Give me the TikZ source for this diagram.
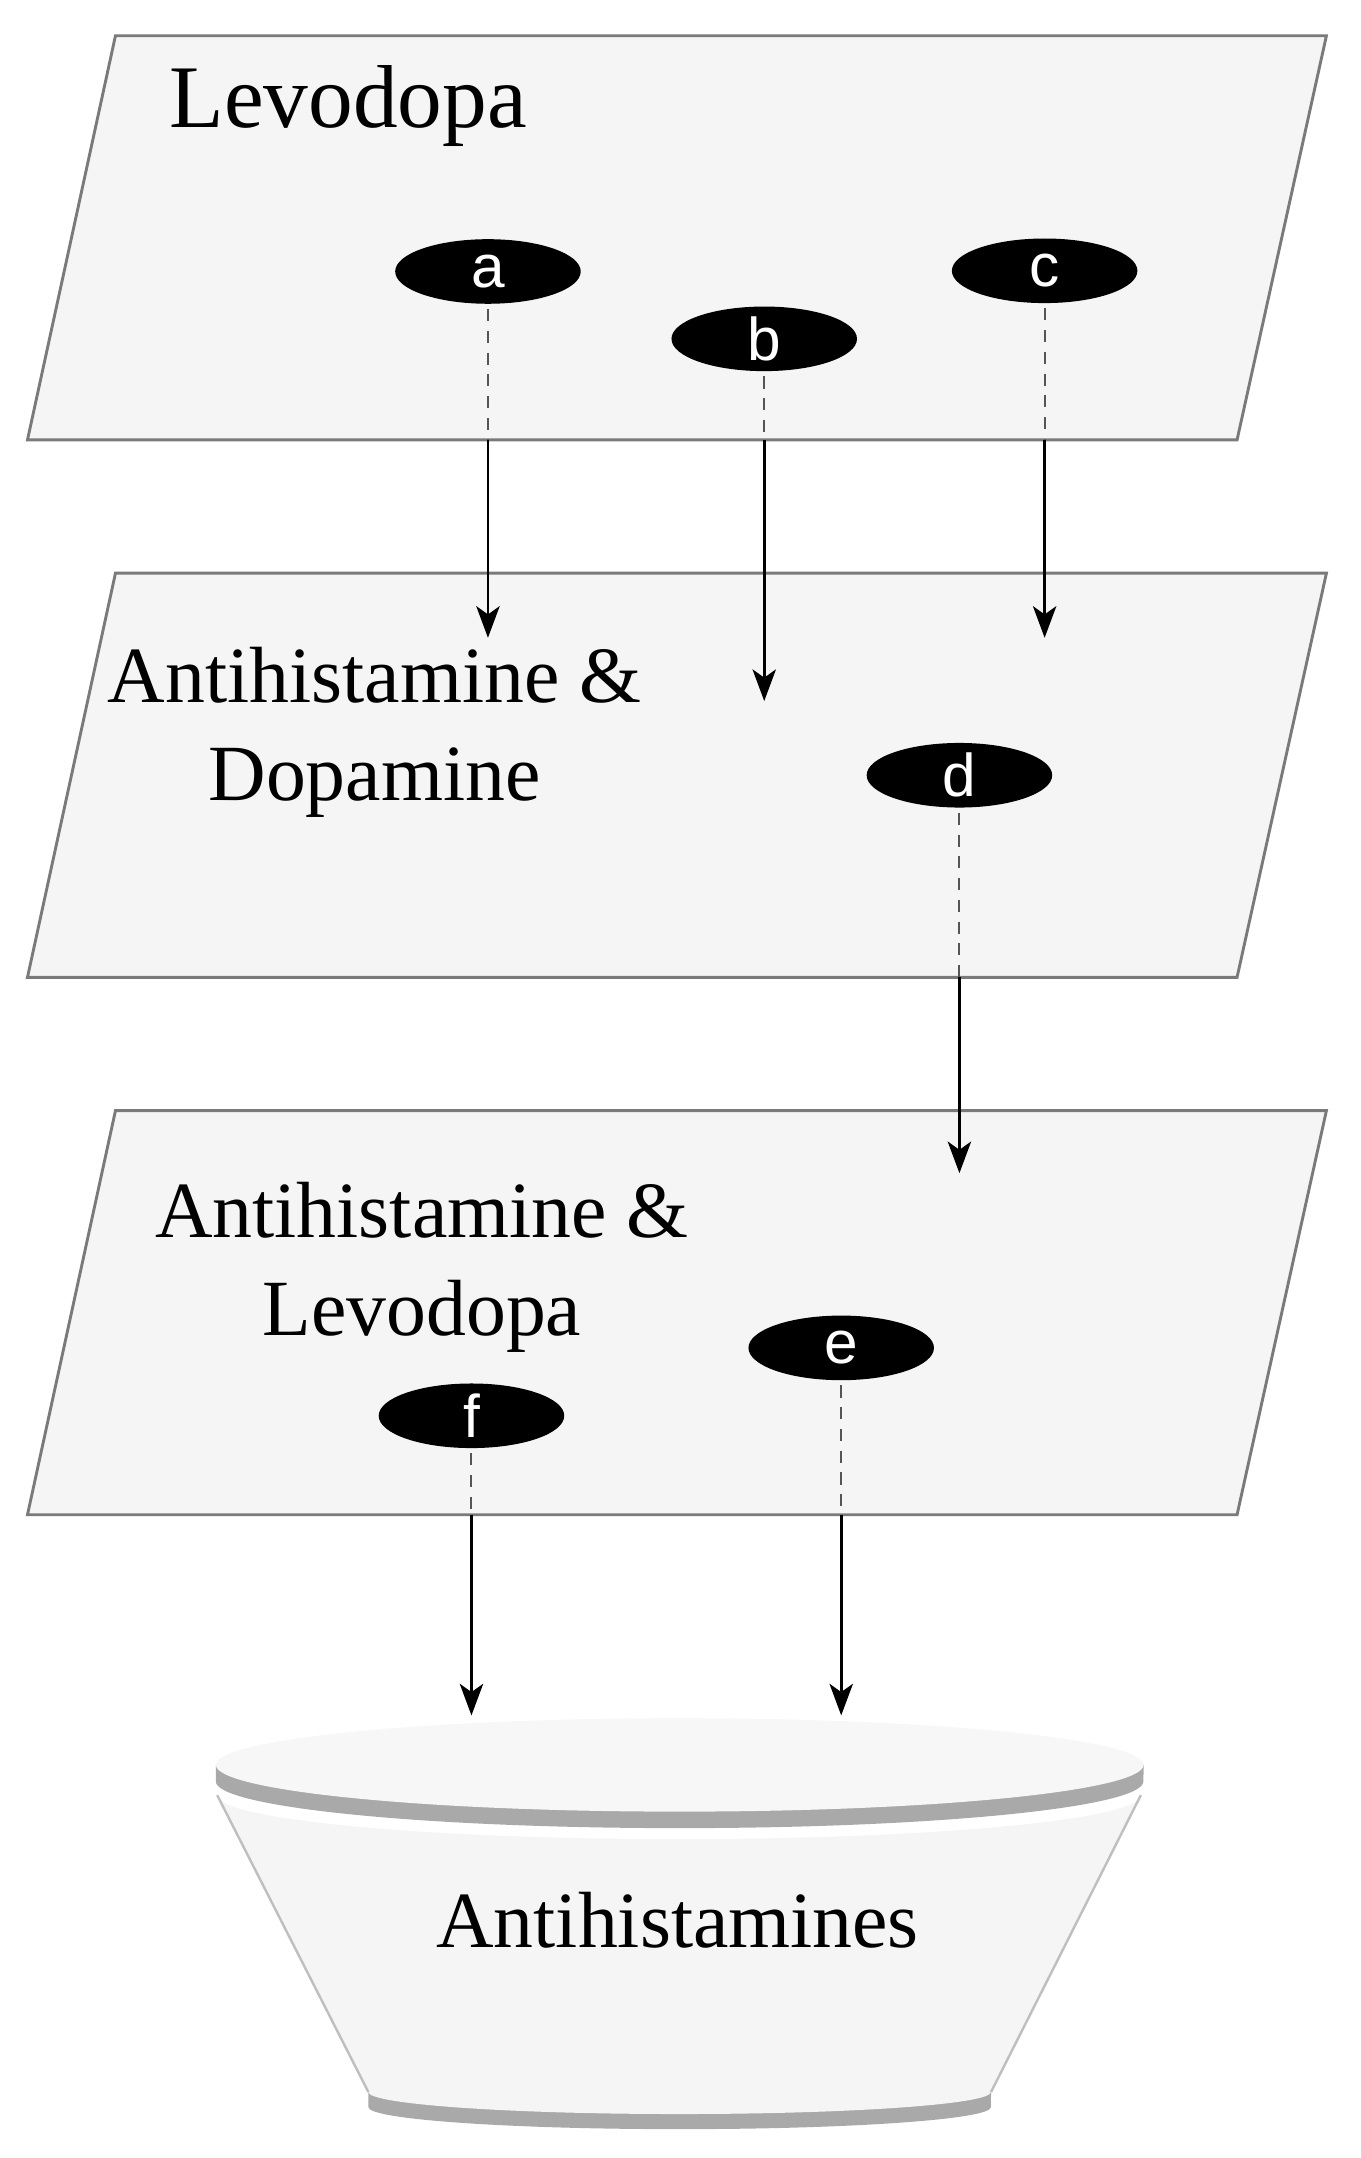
\documentclass[tikz,border=0pt]{standalone}
\usepackage{fontspec}
\setmainfont{Liberation Serif}
\setsansfont{Liberation Sans}
\usetikzlibrary{arrows.meta,shapes.geometric}

\definecolor{layerfill}{HTML}{F5F5F5}
\definecolor{layerline}{HTML}{7A7A7A}
\definecolor{topface}{HTML}{F7F7F7}
\definecolor{rimgray}{HTML}{A9A9A9}
\definecolor{dashgray}{HTML}{555555}

\begin{document}
\begin{tikzpicture}[x=0.02cm,y=-0.02cm,
    layer/.style={fill=layerfill,draw=layerline,line width=1.2pt},
    tag node/.style={ellipse,fill=black,text=white,inner sep=0pt,minimum width=2.7cm,
        minimum height=0.94cm,font=\sffamily\fontsize{25}{29}\selectfont},
    layer text/.style={inner sep=0pt,align=center,font=\fontsize{33}{40.7}\selectfont},
    hidden link/.style={draw=dashgray,line width=0.8pt,dash pattern=on 5pt off 4pt,shorten <=2pt},
    link/.style={draw=black,line width=1.1pt,-{Stealth[length=0.46cm,width=0.34cm,inset=0.12cm]}}]

    \useasboundingbox (0,0) rectangle (990,1570);

    % layers
    \foreach \name/\y in {lev/26,antdop/417,antlev/808} {
        \draw[layer] (84,\y) -- (965,\y) -- (900,\y+294) -- (20,\y+294) -- cycle;
        \coordinate (\name-bottom) at (0,\y+294);
    }

    \node[inner sep=0pt,anchor=base west,font=\fontsize{37}{44}\selectfont] (levtext) at (123,92.5) {Levodopa};
    \node[layer text] (antdoptext) at (272.5,532.7) {Antihistamine \&\\Dopamine};
    \node[layer text] (antlevtext) at (307,922) {Antihistamine \&\\Levodopa};

    \node[tag node] (a) at (355,197.5) {a};
    \node[tag node] (b) at (556,246.5) {b};
    \node[tag node] (c) at (760,197) {c};
    \node[tag node] (d) at (698,564) {d};
    \node[tag node] (e) at (612,980.6) {e};
    \node[tag node] (f) at (343,1030) {f};

    % links
    \foreach \s/\layer/\x/\ty in {a/lev/355/464,b/lev/556/510,c/lev/760/464,
            d/antdop/698/853.5,e/antlev/612/1248,f/antlev/343/1248} {
        \coordinate (\s-end) at (\x,\ty);
        \draw[hidden link] (\s) -- (\s |- \layer-bottom);
        \draw[link] (\s |- \layer-bottom) -- (\s-end);
    }

    % bucket
    \fill[rimgray] (268,1522) -- (268,1533) arc[start angle=180,end angle=360,x radius=4.53cm,y radius=0.32cm] -- (721,1522) -- cycle;
    \fill[layerfill] (158,1306) -- (268,1522) arc[start angle=180,end angle=360,x radius=4.53cm,y radius=0.32cm]
        -- (830,1306) arc[start angle=0,end angle=-180,x radius=6.72cm,y radius=0.64cm] -- cycle;
    \draw[gray!50,line width=1pt] (158,1306) -- (268,1522) (830,1306) -- (721,1522);
    \fill[rimgray] (157,1284) -- (157,1296) arc[start angle=180,end angle=360,x radius=6.75cm,y radius=0.68cm] -- (832,1284) -- cycle;
    \fill[topface] (494.5,1284) ellipse[x radius=6.75cm,y radius=0.68cm];
    \node[inner sep=0pt,anchor=base,font=\fontsize{33}{40}\selectfont] (bucket) at (493,1417) {Antihistamines};
\end{tikzpicture}
\end{document}
